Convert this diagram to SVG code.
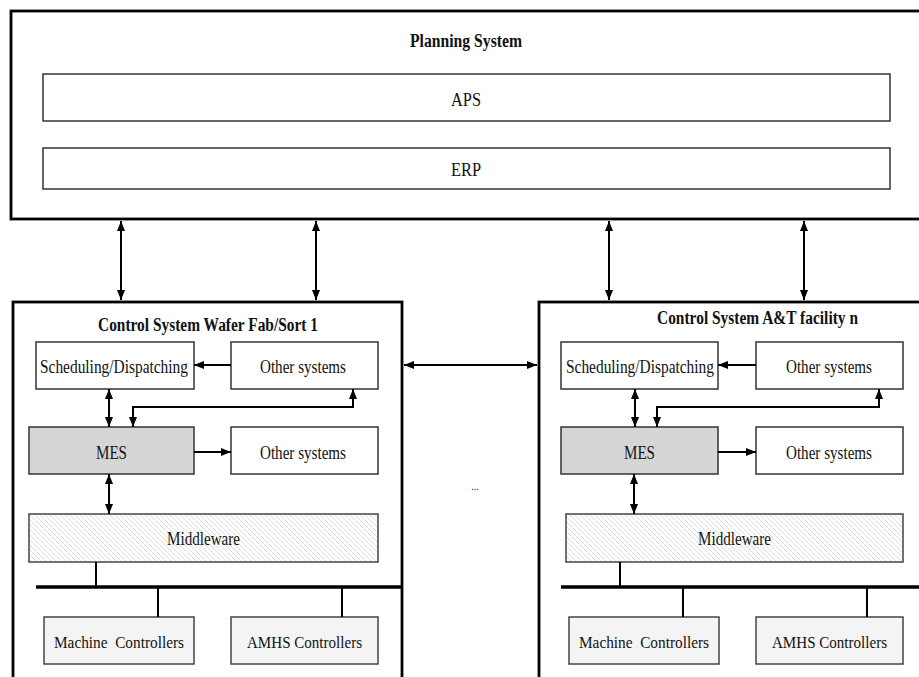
<svg xmlns="http://www.w3.org/2000/svg" width="919" height="677" viewBox="0 0 919 677">
<style>
text{font-family:"Liberation Serif","Times New Roman",serif;fill:#111;text-anchor:middle;font-size:19.5px}
.title{font-weight:bold;font-size:18px}
.sm{font-size:17.5px}
.outer{fill:#fff;stroke:#000;stroke-width:2.8}
.box{fill:#fff;stroke:#333;stroke-width:1.5}
.mes{fill:#d6d6d6;stroke:#333;stroke-width:1.5}
.mw{fill:url(#hatch);stroke:#444;stroke-width:1.5}
.ctl{fill:#f4f4f4;stroke:#444;stroke-width:1.5}
.arr{fill:none;stroke:#000;stroke-width:2}
.ln{fill:none;stroke:#000;stroke-width:2}
.bus{fill:none;stroke:#000;stroke-width:3.5}
.one{marker-end:url(#ah)}
.two{marker-start:url(#ah);marker-end:url(#ah)}
</style>
<defs>
<marker id="ah" viewBox="0 0 10 8" refX="10" refY="4" markerWidth="10" markerHeight="8" markerUnits="userSpaceOnUse" orient="auto-start-reverse">
<path d="M0,0 L10,4 L0,8 z" fill="#000"/>
</marker>
<pattern id="hatch" patternUnits="userSpaceOnUse" width="5" height="5">
<rect width="5" height="5" fill="#fff"/>
<path d="M-1,-1 L6,6 M-1,4 L1,6 M4,-1 L6,1" stroke="#d0d0d0" stroke-width="0.7"/>
</pattern>
</defs>
<rect width="919" height="677" fill="#fff"/>

<g id="planning">
<rect class="outer" x="11" y="11" width="920" height="208"/>
<text class="title" x="466" y="47" textLength="112" lengthAdjust="spacingAndGlyphs">Planning System</text>
</g>
<g id="aps">
<rect class="box" x="43" y="74" width="847" height="47"/>
<text x="466" y="106" textLength="30" lengthAdjust="spacingAndGlyphs">APS</text>
</g>
<g id="erp">
<rect class="box" x="43" y="148" width="847" height="41"/>
<text x="466" y="176" textLength="30" lengthAdjust="spacingAndGlyphs">ERP</text>
</g>

<g id="control-left">
<rect class="outer" x="13" y="302" width="389" height="400"/>
<text class="title" x="208" y="331" textLength="220" lengthAdjust="spacingAndGlyphs">Control System Wafer Fab/Sort 1</text>
</g>
<g id="sched-left">
<rect class="box" x="36" y="342" width="158" height="47"/>
<text x="114" y="373" textLength="148" lengthAdjust="spacingAndGlyphs">Scheduling/Dispatching</text>
</g>
<g id="other1-left">
<rect class="box" x="231" y="342" width="147" height="47"/>
<text x="303" y="373" textLength="86" lengthAdjust="spacingAndGlyphs">Other systems</text>
</g>
<g id="mes-left">
<rect class="mes" x="29" y="427" width="165" height="47"/>
<text x="111.5" y="459" textLength="31" lengthAdjust="spacingAndGlyphs">MES</text>
</g>
<g id="other2-left">
<rect class="box" x="231" y="427" width="147" height="47"/>
<text x="303" y="459" textLength="86" lengthAdjust="spacingAndGlyphs">Other systems</text>
</g>
<g id="middleware-left">
<rect class="mw" x="29" y="514" width="349" height="48"/>
<text x="203.5" y="545" textLength="73" lengthAdjust="spacingAndGlyphs">Middleware</text>
</g>
<g id="machine-left">
<rect class="ctl" x="44" y="617" width="150" height="47"/>
<text class="sm" x="119" y="648" textLength="130" lengthAdjust="spacingAndGlyphs" xml:space="preserve">Machine  Controllers</text>
</g>
<g id="amhs-left">
<rect class="ctl" x="231" y="617" width="147" height="47"/>
<text class="sm" x="304.5" y="648" textLength="115" lengthAdjust="spacingAndGlyphs">AMHS Controllers</text>
</g>

<g id="control-right">
<rect class="outer" x="539" y="302" width="440" height="400"/>
<text class="title" x="757.5" y="324" textLength="201" lengthAdjust="spacingAndGlyphs">Control System A&amp;T facility n</text>
</g>
<g id="sched-right">
<rect class="box" x="561" y="342" width="157" height="47"/>
<text x="640" y="373" textLength="148" lengthAdjust="spacingAndGlyphs">Scheduling/Dispatching</text>
</g>
<g id="other1-right">
<rect class="box" x="756" y="342" width="147" height="47"/>
<text x="829" y="373" textLength="86" lengthAdjust="spacingAndGlyphs">Other systems</text>
</g>
<g id="mes-right">
<rect class="mes" x="561" y="427" width="157" height="47"/>
<text x="639.5" y="459" textLength="31" lengthAdjust="spacingAndGlyphs">MES</text>
</g>
<g id="other2-right">
<rect class="box" x="756" y="427" width="147" height="47"/>
<text x="829" y="459" textLength="86" lengthAdjust="spacingAndGlyphs">Other systems</text>
</g>
<g id="middleware-right">
<rect class="mw" x="566" y="514" width="337" height="48"/>
<text x="734.5" y="545" textLength="73" lengthAdjust="spacingAndGlyphs">Middleware</text>
</g>
<g id="machine-right">
<rect class="ctl" x="569" y="617" width="150" height="47"/>
<text class="sm" x="644" y="648" textLength="130" lengthAdjust="spacingAndGlyphs" xml:space="preserve">Machine  Controllers</text>
</g>
<g id="amhs-right">
<rect class="ctl" x="756" y="617" width="147" height="47"/>
<text class="sm" x="829.5" y="648" textLength="115" lengthAdjust="spacingAndGlyphs">AMHS Controllers</text>
</g>

<g id="ellipsis">
<text x="475" y="490" style="font-size:10px">...</text>
</g>

<g id="connectors">
<path class="arr two" d="M121,221 V300"/>
<path class="arr two" d="M316,221 V300"/>
<path class="arr two" d="M609,221 V300"/>
<path class="arr two" d="M804,221 V300"/>
<path class="arr two" d="M404,365 H537"/>

<path class="arr one" d="M231,365 H194"/>
<path class="arr two" d="M109,389 V427"/>
<path class="arr two" d="M133,427 V407 H353 V389"/>
<path class="arr one" d="M194,452 H231"/>
<path class="arr two" d="M109,474 V514"/>
<path class="ln" d="M96,562 V587"/>
<path class="bus" d="M36,587 H402"/>
<path class="ln" d="M158,587 V617"/>
<path class="ln" d="M342,587 V617"/>

<path class="arr one" d="M756,365 H718"/>
<path class="arr two" d="M635,389 V427"/>
<path class="arr two" d="M657,427 V407 H879 V389"/>
<path class="arr one" d="M718,452 H756"/>
<path class="arr two" d="M634,474 V514"/>
<path class="ln" d="M620,562 V587"/>
<path class="bus" d="M561,587 H919"/>
<path class="ln" d="M683,587 V617"/>
<path class="ln" d="M867,587 V617"/>
</g>
</svg>
